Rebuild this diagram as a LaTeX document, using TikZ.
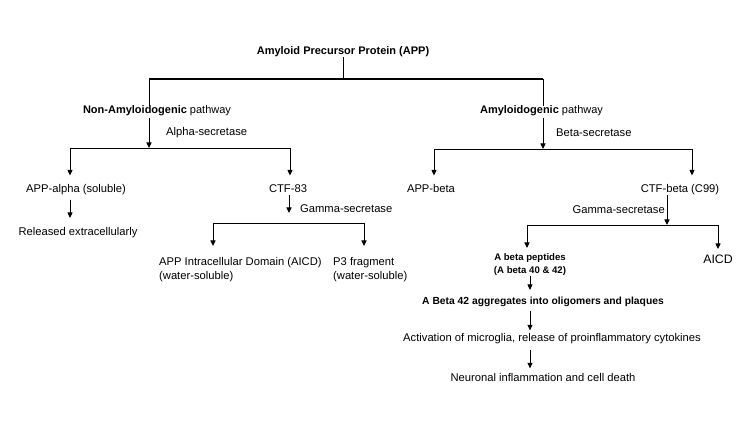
\documentclass[tikz,border=0pt]{standalone}
\usepackage{fontspec}
\setmainfont{Liberation Sans}
\usetikzlibrary{arrows.meta}
\begin{document}
\begin{tikzpicture}[x=1pt,y=-1pt,
  txt/.style={inner sep=0pt, text height=0.75em, text depth=0.22em, font=\fontsize{11.2}{14}\selectfont},
  bld/.style={txt, font=\fontsize{11}{14}\selectfont\bfseries},
  ml/.style={inner sep=0pt, font=\fontsize{11.2}{14}\selectfont},
  ln/.style={line width=0.9pt},
  arr/.style={line width=0.9pt, -{Triangle[length=5.5pt,width=5pt]}},
  bar/.style={line width=2.6pt}]
\fill[white] (0,0) rectangle (750,422);
\useasboundingbox (0,0) rectangle (750,422);

% nodes
\node[bld] (app) at (343,52) {Amyloid Precursor Protein (APP)};
\node[txt, font=\fontsize{11}{14}\selectfont] (nonamy) at (157,111) {\textbf{Non-Amyloidogenic} pathway};
\node[txt, font=\fontsize{11}{14}\selectfont] (amy) at (541.5,111) {\textbf{Amyloidogenic} pathway};
\node[txt, anchor=west] (alpha) at (166,133) {Alpha-secretase};
\node[txt, anchor=west] (beta) at (556,134) {Beta-secretase};
\node[txt] (appalpha) at (76,190) {APP-alpha (soluble)};
\node[txt] (ctf83) at (288,190) {CTF-83};
\node[txt] (released) at (78,233) {Released extracellularly};
\node[txt, anchor=west] (gammaL) at (300,210) {Gamma-secretase};
\node[ml, anchor=north west, align=left] (aicdL) at (159,257) {APP Intracellular Domain (AICD)\\(water-soluble)};
\node[ml, anchor=north west, align=left] (p3) at (333,257) {P3 fragment\\(water-soluble)};
\node[txt] (appbeta) at (431,190) {APP-beta};
\node[txt] (ctfbeta) at (680,190) {CTF-beta (C99)};
\node[txt, anchor=east] (gammaR) at (665,211) {Gamma-secretase};
\node[ml, align=center, anchor=north, font=\fontsize{9.6}{13}\selectfont\bfseries] (abeta) at (530,253.5) {A beta peptides\\(A beta 40 \& 42)};
\node[txt, font=\fontsize{12.3}{14}\selectfont] (aicdR) at (718,261) {AICD};
\node[txt, font=\fontsize{10.3}{14}\selectfont\bfseries] (agg) at (543,302) {A Beta 42 aggregates into oligomers and plaques};
\node[txt] (activ) at (552,339) {Activation of microglia, release of proinflammatory cytokines};
\node[txt] (neur) at (543,379) {Neuronal inflammation and cell death};

% junction coordinates
\coordinate (bL) at (149,79); \coordinate (bR) at (543,79);
\coordinate (jL) at (149,148); \coordinate (jLa) at (70,148); \coordinate (jLb) at (290,148);
\coordinate (jR) at (543,149); \coordinate (jRa) at (434,149); \coordinate (jRb) at (692,149);
\coordinate (gLtip) at (289,213);
\coordinate (gLa) at (213,223); \coordinate (gLb) at (364,223);
\coordinate (gR) at (667,225); \coordinate (gRa) at (527,225); \coordinate (gRb) at (718,225);

% connectors
\draw[ln] (app.south) -- (app.south |- bL);
\draw[bar] (bL) -- (bR);
\draw[ln] (bL) -- (bL |- nonamy.north);
\draw[ln] (bR) -- (bR |- amy.north);

\draw[arr, shorten <=1.5pt] (nonamy.south -| jL) -- (jL);
\draw[ln] (jLa) -- (jLb);
\draw[arr, shorten >=9.5pt] (jLa) -- (appalpha.north -| jLa);
\draw[arr, shorten >=9.5pt] (jLb) -- (ctf83.north -| jLb);
\draw[arr, shorten <=4.5pt, shorten >=10pt] (appalpha.south -| jLa) -- (released.north -| jLa);
\draw[arr] (ctf83.south -| gLtip) -- (gLtip);
\draw[ln] (gLa) -- (gLb);
\draw[arr, shorten >=11pt] (gLa) -- (aicdL.north -| gLa);
\draw[arr, shorten >=11pt] (gLb) -- (p3.north -| gLb);

\draw[arr, shorten <=1.5pt] (amy.south -| jR) -- (jR);
\draw[ln] (jRa) -- (jRb);
\draw[arr, shorten >=9.5pt] (jRa) -- (appbeta.north -| jRa);
\draw[arr, shorten >=9.5pt] (jRb) -- (ctfbeta.north -| jRb);
\draw[arr] (ctfbeta.south -| gR) -- (gR);
\draw[ln] (gRa) -- (gRb);
\draw[arr, shorten >=5.5pt] (gRa) -- (abeta.north -| gRa);
\draw[arr, shorten >=7pt] (gRb) -- (aicdR.north -| gRb);
\draw[arr, shorten >=7pt] (abeta.south) -- (abeta.south |- agg.north);
\draw[arr, shorten <=4pt, shorten >=3.6pt] (agg.south -| abeta.south) -- (activ.north -| abeta.south);
\draw[arr, shorten <=5.6pt, shorten >=5.6pt] (activ.south -| abeta.south) -- (neur.north -| abeta.south);
\end{tikzpicture}
\end{document}
